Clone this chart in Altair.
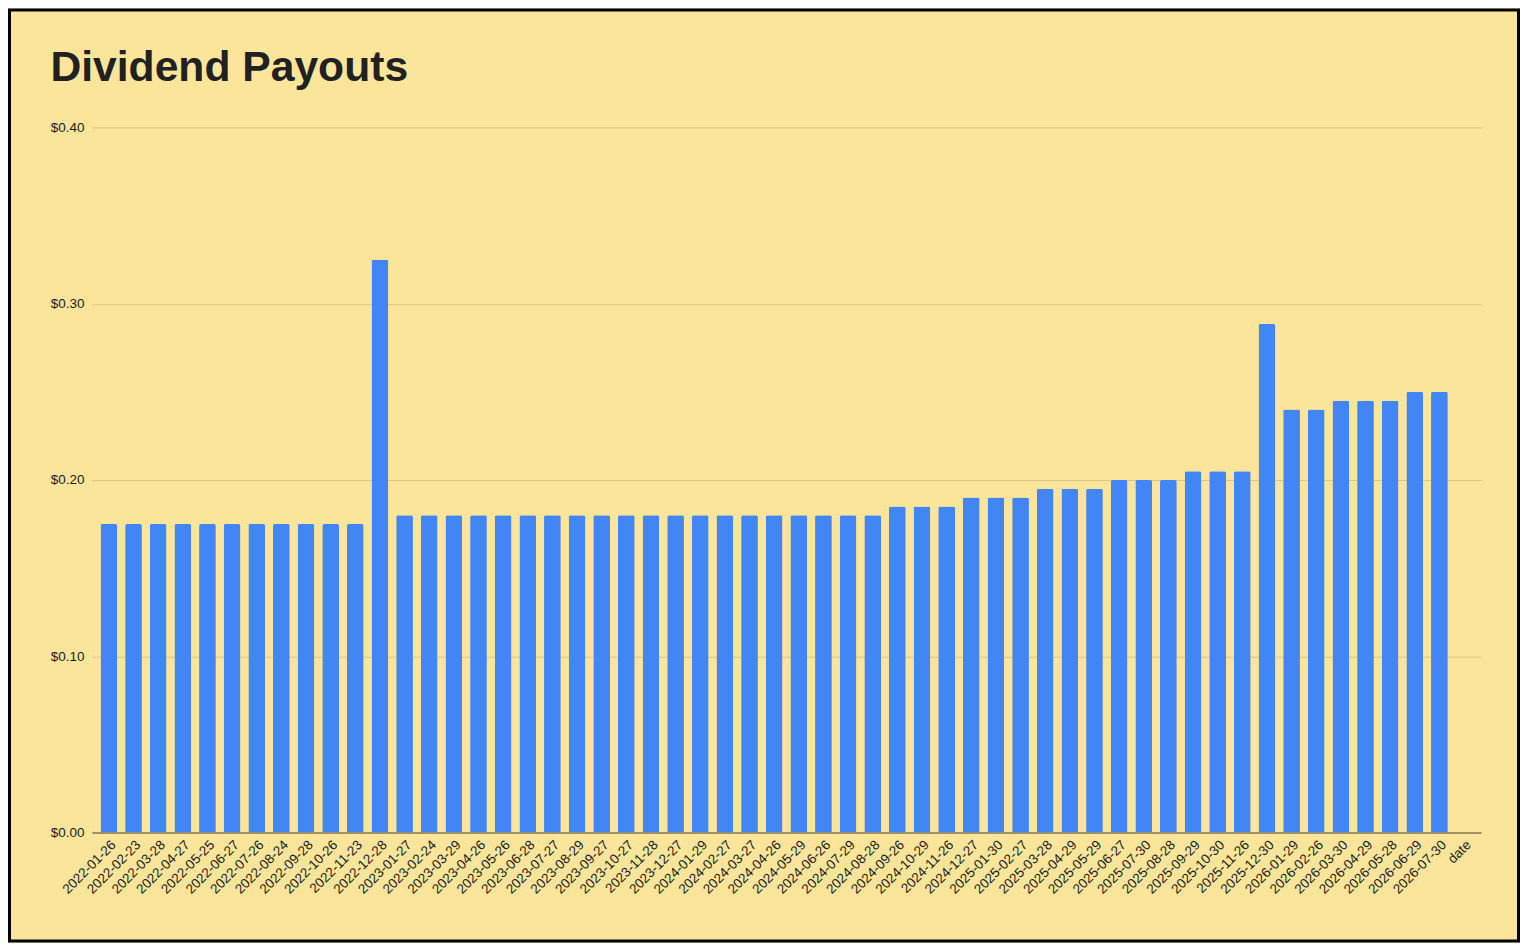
import altair as alt
import pandas as pd

dates = [
    "2022-01-26", "2022-02-23", "2022-03-28", "2022-04-27", "2022-05-25", "2022-06-27",
    "2022-07-26", "2022-08-24", "2022-09-28", "2022-10-26", "2022-11-23", "2022-12-28",
    "2023-01-27", "2023-02-24", "2023-03-29", "2023-04-26", "2023-05-26", "2023-06-28",
    "2023-07-27", "2023-08-29", "2023-09-27", "2023-10-27", "2023-11-28", "2023-12-27",
    "2024-01-29", "2024-02-27", "2024-03-27", "2024-04-26", "2024-05-29", "2024-06-26",
    "2024-07-29", "2024-08-28", "2024-09-26", "2024-10-29", "2024-11-26", "2024-12-27",
    "2025-01-30", "2025-02-27", "2025-03-28", "2025-04-29", "2025-05-29", "2025-06-27",
    "2025-07-30", "2025-08-28", "2025-09-29", "2025-10-30", "2025-11-26", "2025-12-30",
    "2026-01-29", "2026-02-26", "2026-03-30", "2026-04-29", "2026-05-28", "2026-06-29",
    "2026-07-30",
]
payouts = [
    0.175, 0.175, 0.175, 0.175, 0.175, 0.175, 0.175, 0.175, 0.175, 0.175, 0.175, 0.325,
    0.18, 0.18, 0.18, 0.18, 0.18, 0.18, 0.18, 0.18, 0.18, 0.18, 0.18, 0.18,
    0.18, 0.18, 0.18, 0.18, 0.18, 0.18, 0.18, 0.18, 0.185, 0.185, 0.185, 0.19,
    0.19, 0.19, 0.195, 0.195, 0.195, 0.20, 0.20, 0.20, 0.205, 0.205, 0.205, 0.2885,
    0.24, 0.24, 0.245, 0.245, 0.245, 0.25, 0.25,
]
x_title = "date"
y_ticks = [0.0, 0.1, 0.2, 0.3, 0.4]
chart_title = ["Dividend Payouts"]

df = pd.DataFrame({"date": dates, "payout": payouts})

W, H = 1391, 706
PL, PT, PR, PB = 84, 119, 39, 110

BG = "#FBE59A"
FONT = "Liberation Sans"
TXT = "#1a1a1a"

bars = alt.Chart(df).mark_bar(
    color="#4285F4", cornerRadiusTopLeft=2, cornerRadiusTopRight=2
).encode(
    x=alt.X(
        "date:N",
        sort=None,
        scale=alt.Scale(domain=dates + [x_title], paddingInner=0.32, paddingOuter=0.35),
        axis=alt.Axis(
            title=None, labelAngle=315, labelFontSize=13.5, labelColor=TXT,
            labelFont=FONT, ticks=False, domainColor="#8C7B4E", domainWidth=1.5,
            grid=False, labelPadding=5, labelOverlap=False,
        ),
    ),
    y=alt.Y(
        "payout:Q",
        scale=alt.Scale(domain=[0, 0.4], nice=False),
        axis=alt.Axis(
            title=None, values=y_ticks, format="$.2f", labelFontSize=13.5,
            labelFont=FONT, labelColor=TXT, ticks=False, domain=False,
            gridColor="#DCC78A", gridWidth=1.2, labelPadding=8,
        ),
    ),
)

title = alt.Chart(pd.DataFrame({"t": chart_title})).mark_text(
    align="left", baseline="alphabetic", fontSize=42.7, fontWeight="bold",
    font=FONT, color="#212121",
).encode(text="t:N", x=alt.value(-41.5), y=alt.value(-47))

border = alt.Chart(pd.DataFrame({"k": [0]})).mark_rect(
    fill=None, stroke="#000000", strokeWidth=3
).encode(
    x=alt.value(-PL + 1.5), x2=alt.value(W + PR - 1.5),
    y=alt.value(-PT + 1.5), y2=alt.value(H + PB - 1.5),
)

chart = alt.layer(bars, title, border).properties(
    width=W, height=H,
    autosize=alt.AutoSizeParams(type="none"),
    padding={"left": PL, "top": PT, "right": PR, "bottom": PB},
    background=BG,
).configure_view(stroke=None)

chart.save("out.html", embed_options={"renderer": "svg", "actions": False})
